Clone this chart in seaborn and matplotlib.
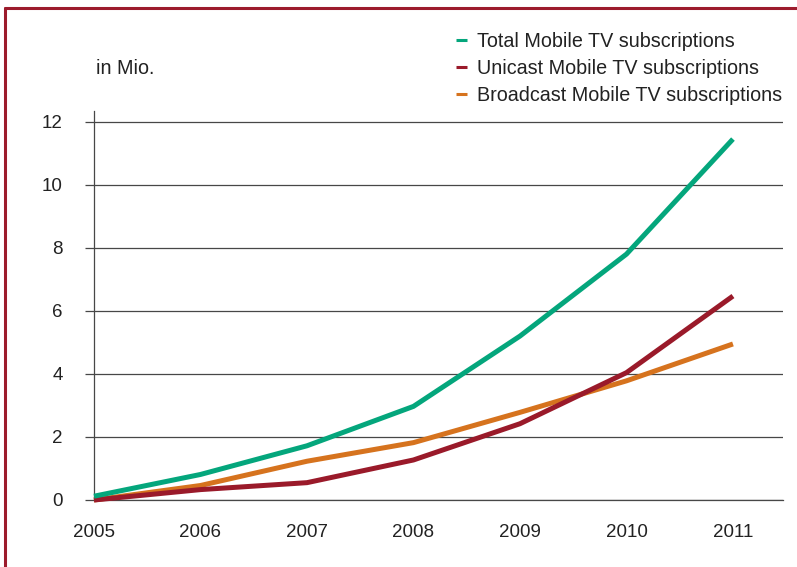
import matplotlib
matplotlib.use("Agg")
import matplotlib.pyplot as plt
from matplotlib.lines import Line2D
import seaborn as sns
import pandas as pd

# Mobile TV subscriptions (millions)
years = [2005, 2006, 2007, 2008, 2009, 2010, 2011]
total = [0.12, 0.81, 1.72, 2.97, 5.20, 7.80, 11.45]
unicast = [0.00, 0.33, 0.55, 1.27, 2.42, 4.04, 6.47]
broadcast = [0.00, 0.46, 1.23, 1.82, 2.78, 3.78, 4.95]

series_names = [
    "Total Mobile TV subscriptions",
    "Unicast Mobile TV subscriptions",
    "Broadcast Mobile TV subscriptions",
]
colors = ["#04A67C", "#9A1A2A", "#D6731E"]
y_ticks = [0, 2, 4, 6, 8, 10, 12]

df = pd.DataFrame({
    "year": years * 3,
    "value": total + unicast + broadcast,
    "series": [n for n in series_names for _ in years],
})

sns.set_theme(style="white")
plt.rcParams["font.family"] = ["Liberation Sans", "DejaVu Sans"]

fig = plt.figure(figsize=(7.97, 5.67), dpi=100)
ax = fig.add_axes([94 / 797, 67 / 567, (783 - 94) / 797, (500 - 110.7) / 567])

sns.lineplot(
    data=df, x="year", y="value", hue="series", hue_order=series_names,
    palette=colors, linewidth=3.6, ax=ax, legend=False, sort=False,
)
for line, z in zip(ax.get_lines(), [5, 4, 3]):
    line.set_zorder(z)
    line.set_solid_capstyle("butt")
    line.set_solid_joinstyle("miter")
    line.set_clip_on(False)

ax.set_xlim(2005, 2011.47)
ax.set_ylim(0, 12.35)
ax.set_xticks(years)
ax.set_xticklabels([str(y) for y in years])
ax.set_yticks(y_ticks)
ax.set_yticklabels([str(v) for v in y_ticks])
ax.set_xlabel("")
ax.set_ylabel("")

grid_color = "#474747"
ax.yaxis.grid(True, color=grid_color, linewidth=0.9)
ax.xaxis.grid(False)
ax.set_axisbelow(True)
for side in ["top", "right"]:
    ax.spines[side].set_visible(False)
for side in ["left", "bottom"]:
    ax.spines[side].set_color(grid_color)
    ax.spines[side].set_linewidth(0.9)
    ax.spines[side].set_zorder(1)

ax.tick_params(axis="y", direction="out", length=6.5, width=0.9, color=grid_color,
               pad=16, labelsize=13.5, labelcolor="#222222", left=True)
ax.tick_params(axis="x", length=0, pad=17.5, labelsize=13.5, labelcolor="#222222")

fig.text(96 / 797, 1 - 68 / 567, "in Mio.", fontsize=14.2, color="#222222",
         ha="left", va="center")

handles = [Line2D([0], [0], color=c, linewidth=2.2, solid_capstyle="butt") for c in colors]
fig.legend(
    handles, series_names, loc="upper left",
    bbox_to_anchor=(456 / 797, 1 - 32 / 567), frameon=False,
    handlelength=0.55, handletextpad=0.5, labelspacing=0.40,
    fontsize=14.2, labelcolor="#222222", borderaxespad=0, borderpad=0,
)

# Frame on the top and left edge
frame_color = "#9C1B2C"
fig.add_artist(Line2D([5 / 797, 1], [1 - 8.3 / 567, 1 - 8.3 / 567],
                      transform=fig.transFigure, color=frame_color, linewidth=2.2))
fig.add_artist(Line2D([5 / 797, 5 / 797], [0, 1 - 8.3 / 567],
                      transform=fig.transFigure, color=frame_color, linewidth=2.2))

fig.savefig("out.png", dpi=100, facecolor="white")
